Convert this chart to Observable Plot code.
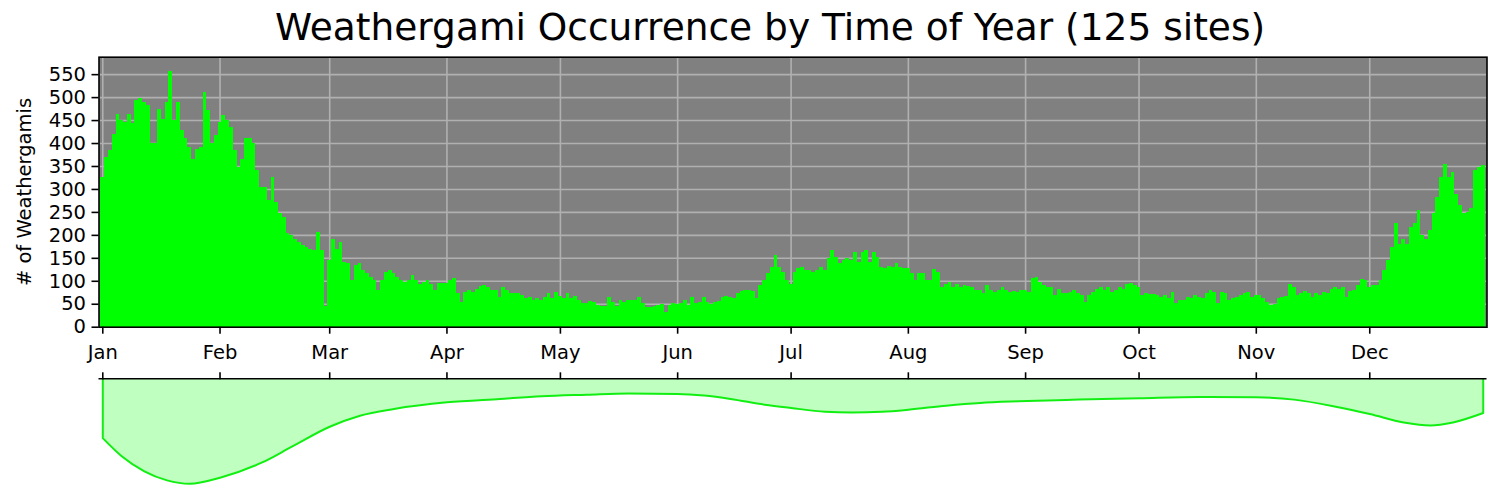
<!DOCTYPE html>
<html><head><meta charset="utf-8">
<script src="https://cdn.jsdelivr.net/npm/d3@7"></script>
<script src="https://cdn.jsdelivr.net/npm/@observablehq/plot@0.6"></script>
<style>
body{margin:0;background:#fff;}
#wrap{position:relative;width:1500px;height:499px;overflow:hidden;font-family:"DejaVu Sans";color:#000;}
#title{position:absolute;left:0;top:9px;width:1540px;text-align:center;font-size:37.5px;line-height:37.5px;white-space:nowrap;}
#ylabel{position:absolute;left:25px;top:191.7px;transform:translate(-50%,-50%) rotate(-90deg);font-size:19.5px;line-height:19.5px;white-space:nowrap;}
#main{position:absolute;left:0;top:0;}
#kde{position:absolute;left:0;top:360px;}
</style></head><body>
<div id="wrap">
<div id="title">Weathergami Occurrence by Time of Year (125 sites)</div>
<div id="ylabel"># of Weathergamis</div>
<div id="main"></div>
<div id="kde"></div>
</div>
<script>
// Day-of-year index (leap year, 0 = Jan 1) at which each month starts
const monthStarts = [0, 31, 60, 91, 121, 152, 182, 213, 244, 274, 305, 335];
const monthLabels = ["Jan","Feb","Mar","Apr","May","Jun","Jul","Aug","Sep","Oct","Nov","Dec"];
const yTicks = [0,50,100,150,200,250,300,350,400,450,500,550];

// Weathergami count for each day of the year (366 days)
const dailyCounts = [
 326,370,384,420,464,450,446,464,443,493,
 497,490,482,399,399,475,453,490,557,450,
 490,428,410,392,366,388,392,511,471,399,
 418,446,460,450,435,384,348,366,410,412,
 399,341,305,305,276,326,272,247,239,203,
 199,192,185,178,174,170,168,207,167,44,
 145,192,170,185,141,138,102,134,139,123,
 116,109,102,80,102,120,123,116,109,102,
 98,102,112,102,94,98,102,94,80,96,
 96,96,102,105,73,54,76,80,76,83,
 88,91,87,80,80,65,87,81,74,73,
 74,69,62,64,58,62,58,65,73,62,
 76,67,62,74,62,67,58,51,51,57,
 53,47,44,44,65,54,45,58,54,58,
 58,59,65,51,42,42,45,47,49,33,
 47,51,49,51,58,47,65,52,54,65,
 54,49,54,57,65,67,65,62,73,78,
 81,80,78,62,91,102,116,131,156,131,
 120,102,94,120,127,131,123,123,120,123,
 131,123,149,167,152,138,145,149,145,163,
 141,163,167,141,163,152,131,127,132,131,
 138,129,127,127,116,102,116,118,102,102,
 125,120,87,94,98,87,94,86,91,88,
 86,80,80,73,91,80,76,81,87,81,
 76,78,76,81,80,76,105,109,98,91,
 87,86,69,83,73,73,76,81,73,69,
 54,69,76,83,87,81,86,76,81,87,
 83,94,96,91,87,69,73,71,71,69,
 65,69,62,76,52,58,59,65,62,69,
 65,62,73,81,76,52,76,74,58,62,
 65,69,74,76,65,69,68,62,53,47,
 50,62,65,66,94,86,69,73,78,73,
 65,73,69,76,74,83,86,83,86,65,
 78,81,91,103,102,87,91,91,102,123,
 145,174,225,181,192,181,218,225,254,199,
 192,210,247,283,326,355,326,337,290,265,
 247,250,258,341,348,352
];

// Smoothed seasonal density (relative units), read at selected days
const kdeDays   = [0, 5, 11, 17, 23, 31, 42, 50, 60, 68, 77, 91, 105, 116, 128, 139, 152, 159, 166, 175, 182, 191, 198, 206, 213, 223, 232, 242, 258, 274, 290, 305, 315, 326, 335, 344, 351, 357, 365];
const kdeValues = [0.59, 0.77, 0.92, 1.01, 1.044, 0.984, 0.834, 0.675, 0.477, 0.367, 0.30, 0.234, 0.20, 0.174, 0.158, 0.145, 0.15, 0.167, 0.20, 0.257, 0.29, 0.327, 0.334, 0.327, 0.307, 0.267, 0.24, 0.224, 0.207, 0.194, 0.182, 0.184, 0.207, 0.277, 0.35, 0.434, 0.464, 0.434, 0.34];

const bars = dailyCounts.map((c, i) => ({day: i, count: c}));
const kde = kdeDays.map((d, i) => ({day: d, v: kdeValues[i]}));
const kdeEnds = [kde[0], kde[kde.length - 1]];

const W = 1500, ML = 98.5, MR = 13.5;
const xDomain = [-1, 366];
const fmtMonth = d => monthLabels[monthStarts.indexOf(d)];

const main = Plot.plot({
  width: W, height: 370,
  marginLeft: ML, marginRight: MR, marginTop: 56.7, marginBottom: 43.3,
  style: {fontFamily: "DejaVu Sans", fontSize: "19.5px", color: "#000", background: "transparent", overflow: "visible"},
  x: {domain: xDomain},
  y: {domain: [0, 588]},
  marks: [
    Plot.frame({fill: "#808080", stroke: null}),
    Plot.gridX(monthStarts, {stroke: "#b0b0b0", strokeOpacity: 1, strokeWidth: 1.6}),
    Plot.gridY(yTicks, {stroke: "#b0b0b0", strokeOpacity: 1, strokeWidth: 1.6}),
    Plot.rectY(bars, {x1: d => d.day - 0.5, x2: d => d.day + 0.5, y: "count", fill: "#00ff00", shapeRendering: "crispEdges"}),
    Plot.frame({stroke: "#000", strokeWidth: 1.6}),
    Plot.axisX(monthStarts, {tickFormat: fmtMonth, tickSize: 7, tickPadding: 11, strokeWidth: 1.6, label: null, fontSize: 19.5}),
    Plot.axisY(yTicks, {tickSize: 7, tickPadding: 6, strokeWidth: 1.6, label: null, fontSize: 19.5})
  ]
});
document.getElementById("main").appendChild(main);

const lower = Plot.plot({
  width: W, height: 139,
  marginLeft: ML, marginRight: MR, marginTop: 18.3, marginBottom: 0,
  style: {fontFamily: "DejaVu Sans", fontSize: "19.5px", color: "#000", background: "transparent", overflow: "visible"},
  x: {domain: xDomain, axis: null},
  y: {domain: [0, 1.2], reverse: true, axis: null},
  marks: [
    Plot.areaY(kde, {x: "day", y: "v", curve: "monotone-x", fill: "#bfffbf"}),
    Plot.lineY(kde, {x: "day", y: "v", curve: "monotone-x", stroke: "#11ee11", strokeWidth: 2}),
    Plot.ruleX(kdeEnds, {x: "day", y1: 0, y2: "v", stroke: "#11ee11", strokeWidth: 2}),
    Plot.ruleY([0], {stroke: "#000", strokeWidth: 1.6}),
    Plot.axisX(monthStarts, {anchor: "top", tickFormat: () => "", tickSize: 7, strokeWidth: 1.6, label: null})
  ]
});
document.getElementById("kde").appendChild(lower);
</script>
</body></html>
